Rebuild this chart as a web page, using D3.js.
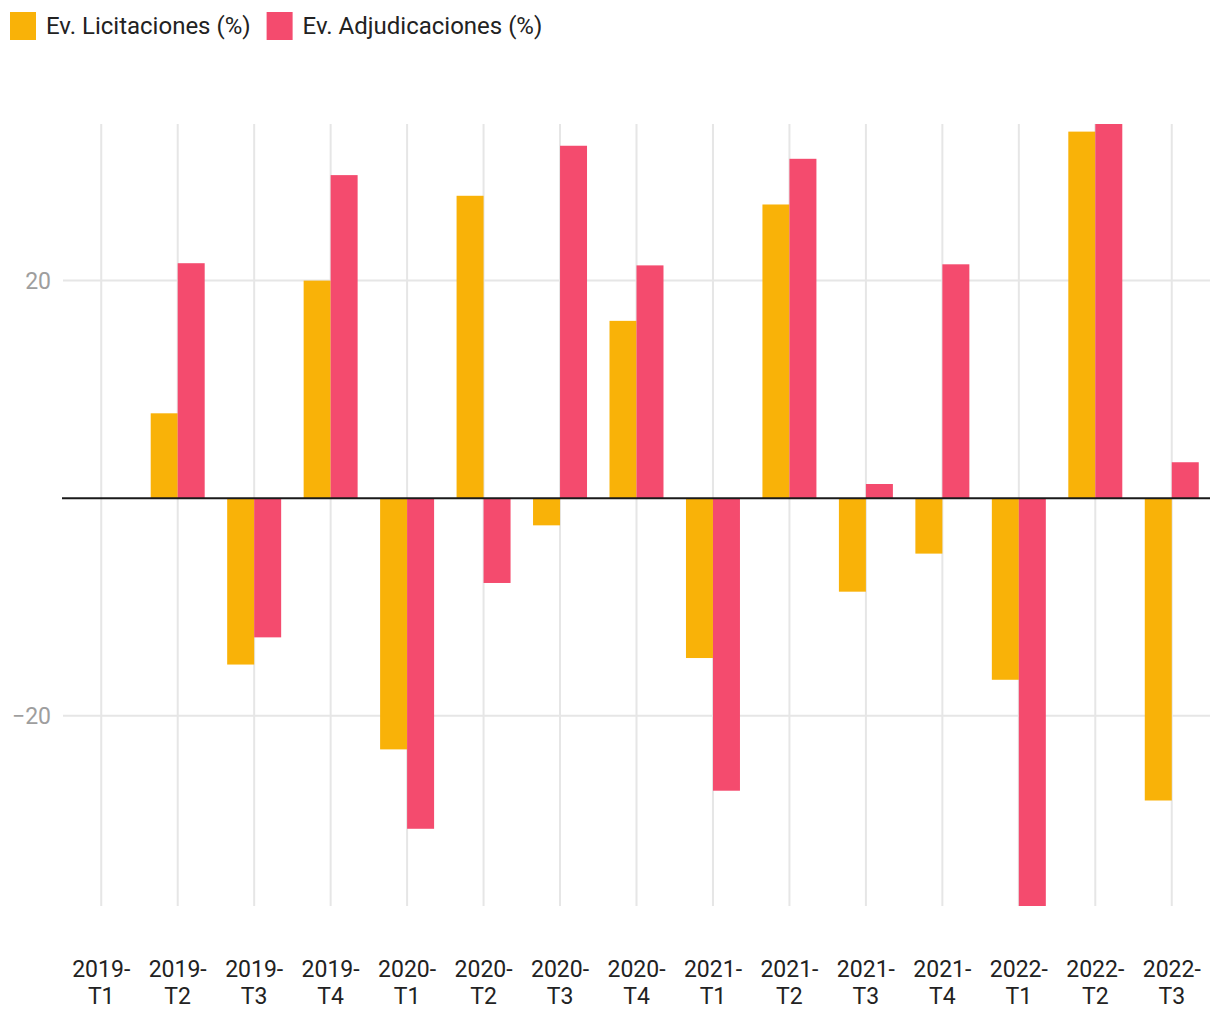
<!DOCTYPE html>
<html><head><meta charset="utf-8">
<script src="https://cdn.jsdelivr.net/npm/d3@7"></script>
<style>body{margin:0;background:#fff;font-family:Roboto,"Noto Sans",sans-serif}</style>
</head><body><svg id="c" width="1220" height="1020"></svg>
<script>
const categories = ["2019-T1","2019-T2","2019-T3","2019-T4","2020-T1","2020-T2","2020-T3","2020-T4","2021-T1","2021-T2","2021-T3","2021-T4","2022-T1","2022-T2","2022-T3"];
const licitaciones = [0, 7.8, -15.3, 20.0, -23.1, 27.8, -2.5, 16.3, -14.7, 27.0, -8.6, -5.1, -16.7, 33.7, -27.8];
const adjudicaciones = [0, 21.6, -12.8, 29.7, -30.4, -7.8, 32.4, 21.4, -26.9, 31.2, 1.3, 21.5, -37.5, 34.4, 3.3];
const seriesNames = ["Ev. Licitaciones (%)", "Ev. Adjudicaciones (%)"];
const colors = ["#f9b208", "#f44b6e"];
const yTicks = [-20, 20];

const svg = d3.select("#c");
const x = d3.scaleBand().domain(categories).range([63, 1210]).paddingInner(0).paddingOuter(0);
const y = d3.scaleLinear().domain([-37.5, 34.4]).range([906, 124]);
const step = x.bandwidth();
const barW = step * 0.353;

// vertical grid
svg.append("g").selectAll("line").data(categories).join("line")
  .attr("x1", d => x(d) + step/2).attr("x2", d => x(d) + step/2)
  .attr("y1", y.range()[1]).attr("y2", y.range()[0])
  .attr("stroke", "#e6e6e6").attr("stroke-width", 2);
// horizontal grid
svg.append("g").selectAll("line").data(yTicks).join("line")
  .attr("x1", 63).attr("x2", 1210).attr("y1", d => y(d)).attr("y2", d => y(d))
  .attr("stroke", "#e6e6e6").attr("stroke-width", 2);
svg.append("g").selectAll("text").data(yTicks).join("text")
  .attr("x", 51).attr("y", d => y(d)).attr("dy", "0.35em").attr("text-anchor", "end")
  .attr("fill", "#9e9e9e").attr("font-size", 23).text(d => d < 0 ? "\u2212" + Math.abs(d) : d);

const series = [licitaciones, adjudicaciones];
series.forEach((vals, si) => {
  svg.append("g").selectAll("rect").data(categories).join("rect")
    .attr("x", d => x(d) + step/2 + (si === 0 ? -barW : 0))
    .attr("width", barW)
    .attr("y", (d, i) => y(Math.max(0, vals[i])))
    .attr("height", (d, i) => Math.abs(y(vals[i]) - y(0)))
    .attr("fill", colors[si]);
});

// zero line
svg.append("line").attr("x1", 62).attr("x2", 1210).attr("y1", y(0)).attr("y2", y(0))
  .attr("stroke", "#1a1a1a").attr("stroke-width", 2);

// x labels
const xl = svg.append("g").selectAll("text").data(categories).join("text")
  .attr("x", d => x(d) + step/2).attr("y", 977).attr("text-anchor", "middle")
  .attr("fill", "#222").attr("font-size", 23);
xl.append("tspan").attr("x", d => x(d) + step/2).text(d => d.split("-")[0] + "-");
xl.append("tspan").attr("x", d => x(d) + step/2).attr("dy", 27).text(d => d.split("-")[1]);

// legend
const lg = svg.append("g");
let lx = 10;
seriesNames.forEach((n, i) => {
  lg.append("rect").attr("x", lx).attr("y", 12).attr("width", 26).attr("height", 28).attr("fill", colors[i]);
  const t = lg.append("text").attr("x", lx + 36).attr("y", 26).attr("dy", "0.35em")
    .attr("fill", "#222").attr("font-size", 24).text(n);
  lx += 36 + t.node().getComputedTextLength() + 16;
});
</script></body></html>
